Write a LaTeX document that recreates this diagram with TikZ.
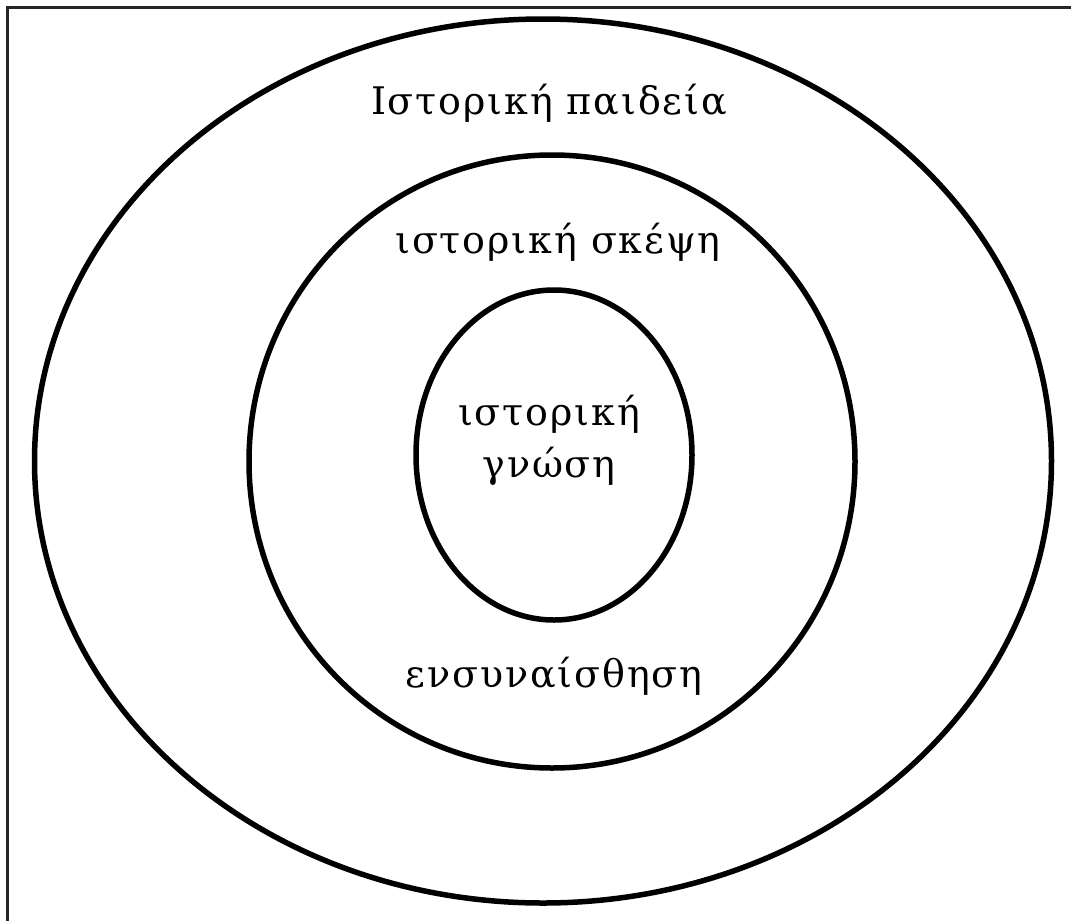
\documentclass[tikz,border=0pt]{standalone}
\usepackage{fontspec}
\setmainfont{DejaVu Serif}[LetterSpace=5]
\begin{document}
\begin{tikzpicture}[x=1pt,y=-1pt,
  ring/.style={draw=black,line width=5.5pt},
  lbl/.style={font=\fontsize{38}{52}\selectfont,inner sep=0pt,align=center}]
\useasboundingbox (0,0) rectangle (1071,921);
\draw[line width=2.5pt,draw=black!85] (7.5,921) -- (7.5,7.5) -- (1071,7.5);
\draw[ring] (543,461) ellipse [x radius=508.5,y radius=442];
\draw[ring] (552,461.5) ellipse [x radius=303,y radius=306.5];
\draw[ring] (554,455) ellipse [x radius=138,y radius=165];
\node[lbl] (paideia) at (549,103) {Ιστορική παιδεία};
\node[lbl] (skepsi) at (558,242) {ιστορική σκέψη};
\node[lbl] (gnosi) at (549,440) {ιστορική\\γνώση};
\node[lbl] (ensyn) at (554,676) {ενσυναίσθηση};
\end{tikzpicture}
\end{document}
